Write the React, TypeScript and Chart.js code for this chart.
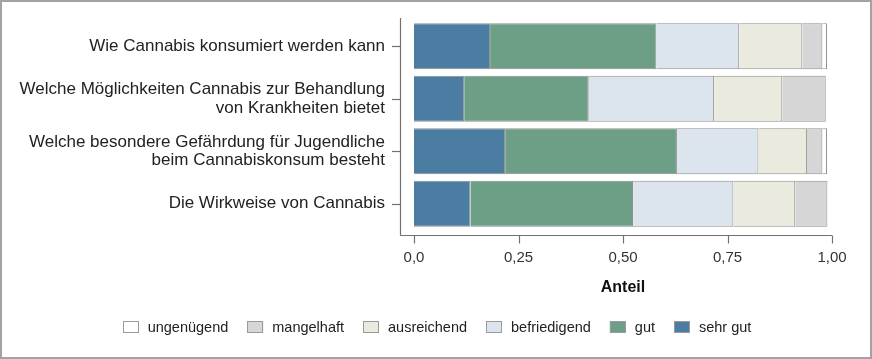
import React, { useEffect, useRef } from "react";
import { Chart, registerables } from "chart.js";

Chart.register(...registerables);

const categories: (string | string[])[] = [
  "Wie Cannabis konsumiert werden kann",
  ["Welche Möglichkeiten Cannabis zur Behandlung", "von Krankheiten bietet"],
  ["Welche besondere Gefährdung für Jugendliche", "beim Cannabiskonsum besteht"],
  "Die Wirkweise von Cannabis",
];

const seriesNames = ["sehr gut", "gut", "befriedigend", "ausreichend", "mangelhaft", "ungenügend"];
const seriesColors = ["#4b7ca1", "#6d9e86", "#dce5ee", "#eaeade", "#d6d6d6", "#ffffff"];

const sehrGut = [0.182, 0.12, 0.218, 0.135];
const gut = [0.398, 0.298, 0.411, 0.389];
const befriedigend = [0.198, 0.3, 0.195, 0.24];
const ausreichend = [0.151, 0.163, 0.116, 0.148];
const mangelhaft = [0.048, 0.104, 0.037, 0.077];
const ungenuegend = [0.011, 0, 0.011, 0];

const xTicks = [0, 0.25, 0.5, 0.75, 1];
const xTickLabels = ["0,0", "0,25", "0,50", "0,75", "1,00"];
const xTitle = "Anteil";

const FONT = '"Liberation Sans", Arial, sans-serif';

const axisPlugin = {
  id: "axisLines",
  afterDraw(chart: any) {
    const { ctx } = chart;
    const xs = chart.scales.x;
    const ys = chart.scales.y;
    ctx.save();
    ctx.strokeStyle = "#707070";
    ctx.lineWidth = 1.2;
    const axisX = 400.5;
    const axisY = 235.5;
    ctx.beginPath();
    ctx.moveTo(axisX, 18);
    ctx.lineTo(axisX, axisY);
    ctx.stroke();
    ys.ticks.forEach((_t: any, i: number) => {
      const y = Math.round(ys.getPixelForTick(i)) + 0.5;
      ctx.beginPath();
      ctx.moveTo(392, y);
      ctx.lineTo(axisX, y);
      ctx.stroke();
    });
    ctx.beginPath();
    ctx.moveTo(axisX, axisY);
    ctx.lineTo(xs.getPixelForValue(1), axisY);
    ctx.stroke();
    xs.ticks.forEach((t: any) => {
      const x = Math.round(xs.getPixelForValue(t.value)) + 0.5;
      ctx.beginPath();
      ctx.moveTo(x, axisY);
      ctx.lineTo(x, axisY + 8);
      ctx.stroke();
    });
    // frame
    ctx.strokeStyle = "#a3a3a3";
    ctx.lineWidth = 2;
    ctx.strokeRect(1, 1, chart.width - 2, chart.height - 2);
    ctx.restore();
  },
};

const legendPlugin = {
  id: "customLegend",
  afterDraw(chart: any) {
    const { ctx } = chart;
    const items = chart.data.datasets
      .map((d: any) => ({ label: d.label, color: d.backgroundColor }))
      .reverse();
    ctx.save();
    ctx.font = `14.5px ${FONT}`;
    ctx.textBaseline = "middle";
    const box = 16;
    const gap = 9;
    const itemGap = 19;
    const widths = items.map((it: any) => ctx.measureText(it.label).width);
    const total =
      widths.reduce((a: number, b: number) => a + b, 0) +
      items.length * (box + gap) +
      (items.length - 1) * itemGap;
    let x = 437 - total / 2;
    const y = 327;
    items.forEach((it: any, i: number) => {
      ctx.fillStyle = it.color;
      ctx.fillRect(x, y - 6, box, 12);
      ctx.strokeStyle = "#9a9a9a";
      ctx.lineWidth = 1;
      ctx.strokeRect(Math.round(x) + 0.5, y - 6 + 0.5, box - 1, 11);
      ctx.fillStyle = "#222";
      ctx.fillText(it.label, x + box + gap, y + 1);
      x += box + gap + widths[i] + itemGap;
    });
    ctx.restore();
  },
};

export default function App() {
  const ref = useRef<HTMLCanvasElement | null>(null);

  useEffect(() => {
    if (!ref.current) return;
    const values = [sehrGut, gut, befriedigend, ausreichend, mangelhaft, ungenuegend];
    const chart = new Chart(ref.current, {
      type: "bar",
      data: {
        labels: categories,
        datasets: seriesNames.map((name, i) => ({
          label: name,
          data: values[i],
          backgroundColor: seriesColors[i],
          borderColor: "#8f8f8f",
          borderWidth: 1,
          borderSkipped: "start",
          barPercentage: 0.88,
          categoryPercentage: 1,
        })),
      },
      options: {
        indexAxis: "y",
        responsive: false,
        animation: false,
        devicePixelRatio: 1,
        layout: { padding: { top: 20, right: 40, left: 0, bottom: 0 } },
        plugins: {
          legend: { display: false },
          tooltip: { enabled: false },
        },
        scales: {
          x: {
            type: "linear",
            stacked: true,
            min: 0,
            max: 1,
            afterFit: (s: any) => {
              s.height = 129;
              s.paddingLeft = 0;
              s.paddingRight = 0;
            },
            afterBuildTicks: (s: any) => {
              s.ticks = xTicks.map((v) => ({ value: v }));
            },
            grid: { display: false, drawTicks: false },
            border: { display: false },
            ticks: {
              padding: 19,
              color: "#333",
              font: { family: FONT, size: 15 },
              callback: (v: any) => {
                const idx = xTicks.indexOf(Number(v));
                return idx >= 0 ? xTickLabels[idx] : "";
              },
            },
            title: {
              display: true,
              text: xTitle,
              color: "#111",
              font: { family: FONT, size: 16, weight: "bold" },
              padding: { top: 0, bottom: 62 },
            },
          },
          y: {
            type: "category",
            stacked: true,
            afterFit: (s: any) => {
              s.width = 414;
              s.paddingTop = 0;
              s.paddingBottom = 0;
            },
            grid: { display: false, drawTicks: false },
            border: { display: false },
            ticks: {
              padding: 29,
              color: "#222",
              font: { family: FONT, size: 17, lineHeight: 1.08 },
            },
          },
        },
      },
      plugins: [axisPlugin, legendPlugin],
    } as any);
    return () => chart.destroy();
  }, []);

  return (
    <div style={{ position: "fixed", left: 0, top: 0, width: 872, height: 359, background: "#fff" }}>
      <canvas ref={ref} width={872} height={359} style={{ display: "block" }} />
    </div>
  );
}
